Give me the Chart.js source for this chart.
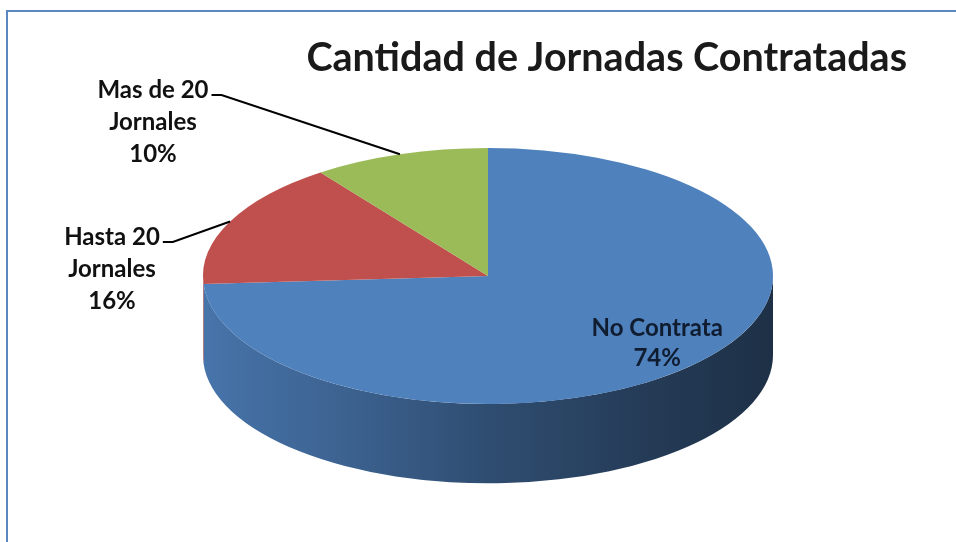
<!DOCTYPE html>
<html><head><meta charset="utf-8">
<script src="https://cdn.jsdelivr.net/npm/chart.js@4"></script>
<style>
html,body{margin:0;padding:0;background:#fff;overflow:hidden;width:956px;height:542px;}
#frame{position:absolute;left:6px;top:10px;width:1200px;height:900px;border-top:2px solid #5b87c0;border-left:2px solid #5b87c0;box-sizing:border-box;}
#wrap{position:absolute;left:0;top:0;width:956px;height:542px;}
</style></head><body>
<div id="frame"></div>
<div id="wrap"><canvas id="c" width="956" height="542"></canvas></div>
<script>
const categories = [['No Contrata'], ['Hasta 20', 'Jornales'], ['Mas de 20', 'Jornales']];
const values = [74, 16, 10];
const colors = ['#4f81bd', '#c0504d', '#9bbb59'];
const titleText = 'Cantidad de Jornadas Contratadas';

const TILT = 128 / 285;   // vertical/horizontal ratio of the tilted pie
const DEPTH = 0.62;       // side height relative to vertical radius
const LABEL_FONT = 'bold 24px Lato';
const LINE_H = 32;

function shade(hex, f) {
  const n = parseInt(hex.slice(1), 16);
  const r = (n >> 16) & 255, g = (n >> 8) & 255, b = n & 255;
  return 'rgb(' + Math.round(r * f) + ',' + Math.round(g * f) + ',' + Math.round(b * f) + ')';
}

const pie3d = {
  id: 'pie3d',
  beforeDatasetsDraw(chart) {
    const ctx = chart.ctx;
    const meta = chart.getDatasetMeta(0);
    const a0 = meta.data[0];
    const cx = a0.x, cy = a0.y, ry = a0.outerRadius, rx = ry / TILT, d = ry * DEPTH;
    const TWO = Math.PI * 2;
    meta.data.forEach((arc, i) => {
      const col = chart.data.datasets[0].backgroundColor[i];
      for (const k of [-1, 0, 1]) {
        const a = Math.max(arc.startAngle + k * TWO, 0);
        const b = Math.min(arc.endAngle + k * TWO, Math.PI);
        if (b > a) {
          const g = ctx.createLinearGradient(cx - rx, 0, cx + rx, 0);
          g.addColorStop(0, shade(col, 0.9));
          g.addColorStop(0.25, shade(col, 0.76));
          g.addColorStop(0.5, shade(col, 0.6));
          g.addColorStop(0.8, shade(col, 0.45));
          g.addColorStop(1, shade(col, 0.37));
          ctx.save();
          ctx.beginPath();
          ctx.ellipse(cx, cy, rx, ry, 0, a, b, false);
          ctx.ellipse(cx, cy + d, rx, ry, 0, b, a, true);
          ctx.closePath();
          ctx.fillStyle = g;
          ctx.fill();
          ctx.restore();
        }
      }
    });
    ctx.save();
    ctx.translate(cx, cy);
    ctx.scale(1 / TILT, 1);
    ctx.translate(-cx, -cy);
  },
  afterDatasetsDraw(chart, args, opts) {
    const ctx = chart.ctx;
    ctx.restore();
    const meta = chart.getDatasetMeta(0);
    const a0 = meta.data[0];
    const cx = a0.x, cy = a0.y, ry = a0.outerRadius, rx = ry / TILT;
    const vals = chart.data.datasets[0].data;
    const total = vals.reduce((s, v) => s + v, 0);
    ctx.save();
    ctx.font = LABEL_FONT;
    ctx.textAlign = 'center';
    ctx.textBaseline = 'middle';
    meta.data.forEach((arc, i) => {
      const mid = (arc.startAngle + arc.endAngle) / 2;
      const lines = [...chart.data.labels[i], Math.round(vals[i] / total * 100) + '%'];
      const pos = opts.outside[i];
      if (pos) {
        ctx.fillStyle = '#111';
        lines.forEach((t, j) => ctx.fillText(t, pos.x, pos.y + j * LINE_H));
        const w = ctx.measureText(lines[0]).width;
        const sx = pos.x + w / 2 + 3, sy = pos.y + 5;
        const ax = cx + rx * Math.cos(mid), ay = cy + ry * Math.sin(mid);
        ctx.beginPath();
        ctx.moveTo(sx, sy);
        ctx.lineTo(sx + 10, sy);
        ctx.lineTo(ax, ay);
        ctx.strokeStyle = '#000';
        ctx.lineWidth = 2;
        ctx.stroke();
      } else {
        const f = 0.8;
        const x = cx + rx * f * Math.cos(mid), y = cy + ry * f * Math.sin(mid);
        ctx.fillStyle = '#101c30';
        const y0 = y - (lines.length - 1) * 30 / 2 - 3;
        lines.forEach((t, j) => ctx.fillText(t, x + 3, y0 + j * 30));
      }
    });
    ctx.restore();
  }
};

new Chart(document.getElementById('c'), {
  type: 'pie',
  data: {
    labels: categories,
    datasets: [{
      data: values,
      backgroundColor: colors,
      borderWidth: 0,
      hoverOffset: 0,
      offset: 0,
      clip: false
    }]
  },
  options: {
    responsive: false,
    animation: false,
    events: [],
    layout: { padding: { top: 0, left: 69, right: 49, bottom: 138 } },
    plugins: {
      legend: { display: false },
      tooltip: { enabled: false },
      title: {
        display: true,
        text: titleText,
        align: 'end',
        color: '#1a1a1a',
        font: { family: 'Lato', size: 39.5, weight: 'bold', lineHeight: 1.2 },
        padding: { top: 34.3, bottom: 66.3 }
      },
      pie3d: {
        outside: { 1: { x: 112, y: 237 }, 2: { x: 153, y: 90 } }
      }
    }
  },
  plugins: [pie3d]
});
</script>
</body></html>
